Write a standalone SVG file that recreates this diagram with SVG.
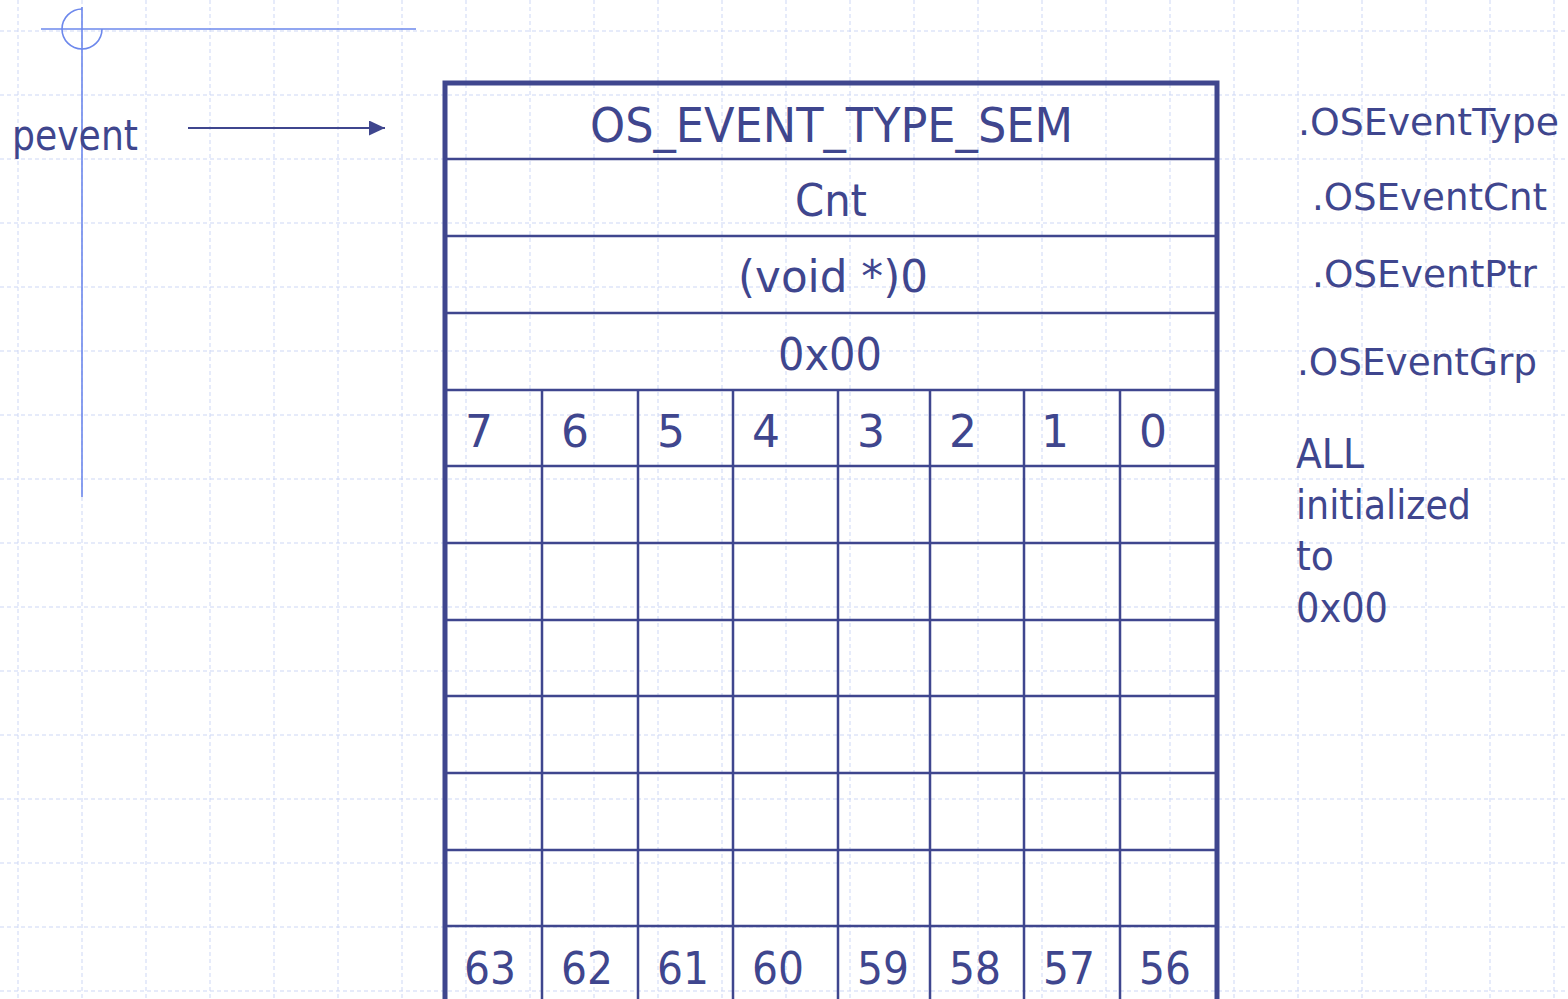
<svg xmlns="http://www.w3.org/2000/svg" width="1568" height="999" viewBox="0 0 1568 999">
<style>
.grid{stroke:#cdd7f5;stroke-width:1;stroke-dasharray:4 3;fill:none}
.t{font-family:"DejaVu Sans","Liberation Sans",sans-serif;fill:#3f468e}
.b{stroke:#3f468e;fill:none}
.cross{stroke:#6d88ec;stroke-width:1.6;fill:none}
</style>
<defs>
<marker id="ah" viewBox="0 0 16 15" refX="16" refY="7.5" markerWidth="16" markerHeight="15" markerUnits="userSpaceOnUse" orient="auto">
<path d="M0,0 L16,7.5 L0,15 Z" fill="#3f468e"/>
</marker>
</defs>
<rect width="1568" height="999" fill="#ffffff"/>
<g id="grid">
<path class="grid" d="M18,0V999M82,0V999M146,0V999M210,0V999M274,0V999M338,0V999M402,0V999M466,0V999M530,0V999M594,0V999M658,0V999M722,0V999M786,0V999M850,0V999M914,0V999M978,0V999M1042,0V999M1106,0V999M1170,0V999M1234,0V999M1298,0V999M1362,0V999M1426,0V999M1490,0V999M1554,0V999"/>
<path class="grid" d="M0,31H1568M0,95H1568M0,159H1568M0,223H1568M0,287H1568M0,351H1568M0,415H1568M0,479H1568M0,543H1568M0,607H1568M0,671H1568M0,735H1568M0,799H1568M0,863H1568M0,927H1568M0,991H1568"/>
</g>
<g id="crosshair">
<line class="cross" x1="41" y1="29" x2="416" y2="29"/>
<line class="cross" x1="82" y1="7" x2="82" y2="497"/>
<path class="cross" d="M82,9 A20,20 0 1,0 102,29"/>
</g>
<g id="pevent">
<text class="t" x="12" y="150" font-size="42" textLength="126" lengthAdjust="spacingAndGlyphs">pevent</text>
</g>
<g id="connectors">
<line x1="188" y1="128" x2="385" y2="128" stroke="#3f468e" stroke-width="2" marker-end="url(#ah)"/>
</g>
<g id="table">
<path class="b" stroke-width="5" d="M445,1005V83H1217V1005"/>
<path class="b" stroke-width="2.5" d="M447,159H1215M447,236H1215M447,313H1215M447,390H1215M447,466H1215M447,543H1215M447,620H1215M447,696H1215M447,773H1215M447,850H1215M447,926H1215"/>
<path class="b" stroke-width="2.5" d="M542,390V999M638,390V999M733,390V999M838,390V999M930,390V999M1024,390V999M1120,390V999"/>
<text class="t" x="590" y="142" font-size="48" textLength="483" lengthAdjust="spacingAndGlyphs">OS_EVENT_TYPE_SEM</text>
<text class="t" x="795" y="216" font-size="44" textLength="72" lengthAdjust="spacingAndGlyphs">Cnt</text>
<text class="t" x="738" y="292" font-size="44" textLength="190" lengthAdjust="spacingAndGlyphs">(void *)0</text>
<text class="t" x="778" y="370" font-size="44" textLength="104" lengthAdjust="spacingAndGlyphs">0x00</text>
<g font-size="44">
<text class="t" x="465" y="447">7</text>
<text class="t" x="561" y="447">6</text>
<text class="t" x="657" y="447">5</text>
<text class="t" x="752" y="447">4</text>
<text class="t" x="857" y="447">3</text>
<text class="t" x="949" y="447">2</text>
<text class="t" x="1041" y="447">1</text>
<text class="t" x="1139" y="447">0</text>
<text class="t" x="464" y="984" textLength="52" lengthAdjust="spacingAndGlyphs">63</text>
<text class="t" x="561" y="984" textLength="52" lengthAdjust="spacingAndGlyphs">62</text>
<text class="t" x="657" y="984" textLength="52" lengthAdjust="spacingAndGlyphs">61</text>
<text class="t" x="752" y="984" textLength="52" lengthAdjust="spacingAndGlyphs">60</text>
<text class="t" x="857" y="984" textLength="52" lengthAdjust="spacingAndGlyphs">59</text>
<text class="t" x="949" y="984" textLength="52" lengthAdjust="spacingAndGlyphs">58</text>
<text class="t" x="1043" y="984" textLength="52" lengthAdjust="spacingAndGlyphs">57</text>
<text class="t" x="1139" y="984" textLength="52" lengthAdjust="spacingAndGlyphs">56</text>
</g>
</g>
<g id="labels" font-size="38">
<text class="t" x="1298" y="135" textLength="261" lengthAdjust="spacingAndGlyphs">.OSEventType</text>
<text class="t" x="1312" y="210" textLength="235" lengthAdjust="spacingAndGlyphs">.OSEventCnt</text>
<text class="t" x="1312" y="287" textLength="225" lengthAdjust="spacingAndGlyphs">.OSEventPtr</text>
<text class="t" x="1297" y="375" textLength="240" lengthAdjust="spacingAndGlyphs">.OSEventGrp</text>
</g>
<g id="note" font-size="40">
<text class="t" x="1296" y="468" textLength="68" lengthAdjust="spacingAndGlyphs">ALL</text>
<text class="t" x="1296" y="519" textLength="175" lengthAdjust="spacingAndGlyphs">initialized</text>
<text class="t" x="1296" y="570" textLength="38" lengthAdjust="spacingAndGlyphs">to</text>
<text class="t" x="1296" y="622" textLength="92" lengthAdjust="spacingAndGlyphs">0x00</text>
</g>
</svg>
